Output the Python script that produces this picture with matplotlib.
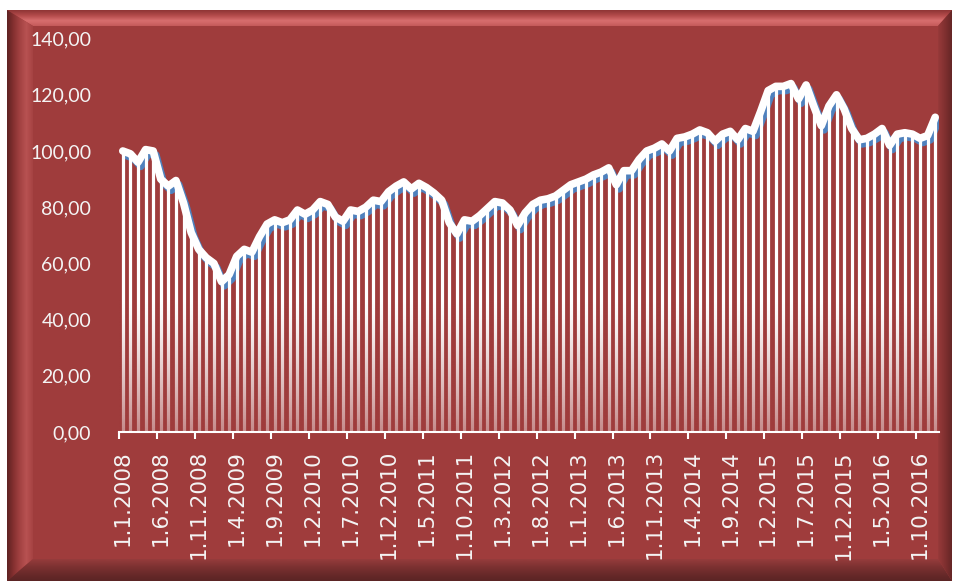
import numpy as np
import matplotlib
matplotlib.use("Agg")
import matplotlib.pyplot as plt
from matplotlib.patches import Polygon, Rectangle
from matplotlib.colors import LinearSegmentedColormap, to_rgb
from matplotlib.transforms import ScaledTranslation

# monthly index values, Jan 2008 .. Dec 2016
values = [
    100, 99, 96, 100.5, 100, 90, 87.5, 89.5, 81.5, 71,
    65, 62, 60, 53.5, 56, 62.5, 65, 64, 69.5, 74,
    75.5, 74.5, 75.5, 79, 77.5, 79, 82, 81, 76.5, 75,
    79, 78.5, 80, 82.5, 82, 85.5, 87.5, 89, 86.5, 88.5,
    87, 85, 82.5, 74.5, 70.5, 75.5, 75, 77, 79.5, 82,
    81.5, 79, 73.5, 78, 81, 82.5, 83, 84, 86, 88,
    89, 90, 91.5, 92.5, 94, 88, 93, 93, 97, 100,
    101, 102.5, 100, 104.5, 105, 106, 107.5, 106.5, 103.5, 106,
    107, 104, 108, 107, 114, 121.5, 123, 123, 124, 118.5,
    123.5, 116, 109, 116, 120, 115, 108, 104, 104.5, 106,
    108, 102, 106, 106.5, 106, 104.5, 105.5, 112,
]
tick_labels = ["1.1.2008", "1.6.2008", "1.11.2008", "1.4.2009", "1.9.2009",
               "1.2.2010", "1.7.2010", "1.12.2010", "1.5.2011", "1.10.2011",
               "1.3.2012", "1.8.2012", "1.1.2013", "1.6.2013", "1.11.2013",
               "1.4.2014", "1.9.2014", "1.2.2015", "1.7.2015", "1.12.2015",
               "1.5.2016", "1.10.2016"]
y_ticks = [0, 20, 40, 60, 80, 100, 120, 140]

W, H = 958, 583
fig = plt.figure(figsize=(W / 100, H / 100), dpi=100)
fig.patch.set_facecolor("white")

# --- bevelled red panel, drawn in pixel coords ---
bg = fig.add_axes([0, 0, 1, 1], zorder=0)
bg.axis("off")

x0, x1, y0, y1 = 7, 952, 10, 581
bl, bt, br, bb = 26, 16, 14, 22
face = "#9f3c3c"
bg.add_patch(Rectangle((x0, y0), x1 - x0, y1 - y0, fc=face, ec="none", zorder=0))


def bevel(pts, colors, axis):
    poly = Polygon(pts, closed=True, fc="none", ec="none")
    bg.add_patch(poly)
    cmap = LinearSegmentedColormap.from_list("b", colors)
    g = np.linspace(0, 1, 256)
    arr = g[None, :] if axis == "x" else g[:, None]
    xs = [p[0] for p in pts]
    ys = [p[1] for p in pts]
    im = bg.imshow(arr, cmap=cmap, aspect="auto", zorder=2,
                   extent=(min(xs), max(xs), max(ys), min(ys)))
    im.set_clip_path(poly)


bevel([(x0, y0), (x1, y0), (x1 - br, y0 + bt), (x0 + bl, y0 + bt)],
      ["#8e3434", "#b24a4a", "#d86e6e", "#c45a5a"], "y")
bevel([(x0, y0), (x0 + bl, y0 + bt), (x0 + bl, y1 - bb), (x0, y1)],
      ["#5e2222", "#853030", "#a34242", "#b85252", "#a54242"], "x")
bevel([(x0, y1), (x0 + bl, y1 - bb), (x1 - br, y1 - bb), (x1, y1)],
      ["#963c3c", "#7e3232", "#6a2a2a", "#5a2424"], "y")
bevel([(x1, y0), (x1, y1), (x1 - br, y1 - bb), (x1 - br, y0 + bt)],
      ["#983a3a", "#803030", "#652626"], "x")
bg.set_xlim(0, W)
bg.set_ylim(H, 0)

# --- chart ---
ax = fig.add_axes([119 / W, 1 - 432 / H, (939 - 119) / W, (432 - 38.6) / H], zorder=1)
ax.patch.set_alpha(0)
n = len(values)
x = np.arange(n)

# shadow line
shadow = ax.transData + ScaledTranslation(2 / 72, -3 / 72, fig.dpi_scale_trans)
ax.plot(x, values, color="#4f81bd", lw=5.5, solid_joinstyle="round",
        solid_capstyle="round", transform=shadow, zorder=1)

# drop lines
ax.vlines(x, 0, values, color="white", lw=2.3, zorder=2)

# fade drop lines toward the base with a red wash
rgb = to_rgb(face)
wash = np.zeros((256, 1, 4))
wash[..., :3] = rgb
wash[:, 0, 3] = np.clip(np.linspace(1, 0, 256), 0, 1) ** 1.3 * 0.6
ax.imshow(wash, extent=(-0.5, n - 0.5, 0, 48), origin="lower", aspect="auto",
          zorder=2.2, interpolation="bilinear")

ax.plot(x, values, color="white", lw=5.5, solid_joinstyle="round",
        solid_capstyle="round", zorder=3)

ax.set_xlim(-0.5, n - 0.5)
ax.set_ylim(0, 140)

for s in ["top", "right", "left"]:
    ax.spines[s].set_visible(False)
ax.spines["bottom"].set_color("white")
ax.spines["bottom"].set_linewidth(1.5)

ax.set_yticks(y_ticks)
ax.set_yticklabels([f"{v:.2f}".replace(".", ",") for v in y_ticks],
                   family="Lato", fontsize=14, color="#f4f4f4")
ax.tick_params(axis="y", length=0, pad=20)

label_pos = list(range(0, n, 5))
ax.set_xticks([p - 0.5 for p in label_pos])
ax.set_xticklabels([])
ax.tick_params(axis="x", which="major", direction="out", length=5,
               width=1.5, color="white")
ax.set_xticks(label_pos, minor=True)
ax.set_xticklabels(tick_labels, minor=True, rotation=90, family="DejaVu Sans",
                   fontsize=15.5, color="#f4f4f4", va="top", ha="center")
ax.tick_params(axis="x", which="minor", length=0, pad=13)

fig.savefig("out.png", dpi=100, facecolor=fig.get_facecolor())
